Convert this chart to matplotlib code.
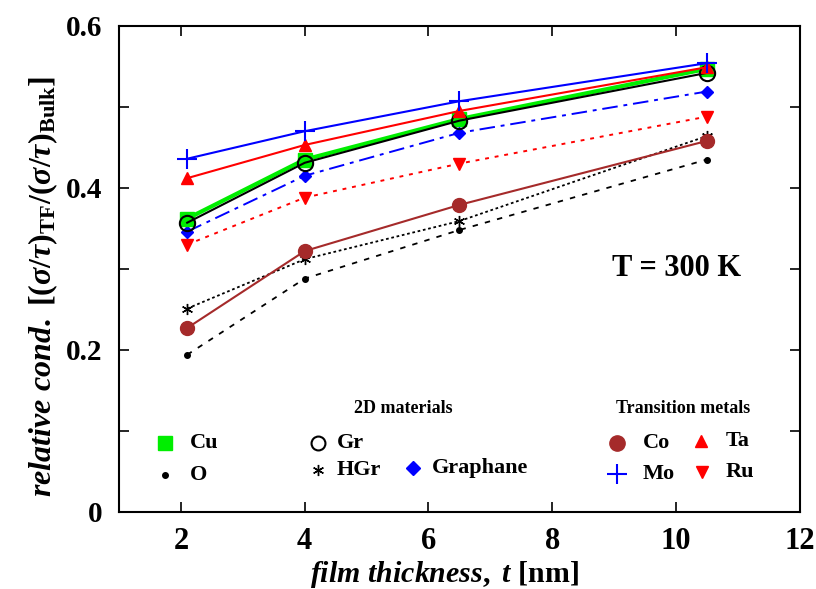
import matplotlib
matplotlib.use("Agg")
from matplotlib import pyplot as plt
from matplotlib.ticker import MultipleLocator

plt.rcParams['font.family'] = ['Liberation Serif', 'DejaVu Serif']
plt.rcParams['font.weight'] = 'bold'
plt.rcParams['mathtext.fontset'] = 'custom'
plt.rcParams['mathtext.rm'] = 'Liberation Serif:bold'
plt.rcParams['mathtext.bf'] = 'Liberation Serif:bold'
plt.rcParams['mathtext.it'] = 'Liberation Serif:italic'

thickness = [2.1, 4.0, 6.5, 10.5]

cu = [0.362, 0.435, 0.485, 0.547]
gr = [0.357, 0.431, 0.483, 0.542]
graphane = [0.346, 0.415, 0.468, 0.519]
hgr = [0.251, 0.312, 0.359, 0.464]
o = [0.194, 0.288, 0.348, 0.435]
co = [0.227, 0.322, 0.379, 0.458]
ta = [0.412, 0.453, 0.495, 0.549]
mo = [0.436, 0.470, 0.507, 0.554]
ru = [0.330, 0.388, 0.430, 0.488]

fig = plt.figure(figsize=(8.16, 5.89), dpi=100)
ax = fig.add_axes([0.146, 0.131, 0.834, 0.825])

ax.plot(thickness, o, color='black', ls=(0, (3, 4)), lw=1.3, marker='o', ms=4)
ax.plot(thickness, hgr, color='black', ls=(0, (1.5, 1.5)), lw=1.3, marker=(6, 2, 0), ms=8, mew=1)
ax.plot(thickness, co, color='#a52a2a', ls='-', lw=1.5, marker='o', ms=10)
ax.plot(thickness, ru, color='red', ls=(0, (2, 3)), lw=1.4, marker='v', ms=8)
ax.plot(thickness, graphane, color='blue', ls=(0, (8, 3, 2, 3)), lw=1.4, marker='D', ms=6)
ax.plot(thickness, cu, color='#00ee00', ls='-', lw=3, marker='s', ms=10)
ax.plot(thickness, gr, color='black', ls='-', lw=1.5, marker='o', ms=11, mfc='none', mew=1.5)
ax.plot(thickness, ta, color='red', ls='-', lw=1.5, marker='^', ms=9)
ax.plot(thickness, mo, color='blue', ls='-', lw=1.5, marker='+', ms=14, mew=1.5)

ax.set_xlim(1, 12)
ax.set_ylim(0, 0.6)
ax.xaxis.set_major_locator(MultipleLocator(2))
ax.yaxis.set_minor_locator(MultipleLocator(0.1))
ax.set_yticks([0, 0.2, 0.4, 0.6])
ax.set_yticklabels(['0', '0.2', '0.4', '0.6'])
ax.tick_params(which='both', direction='in', top=True, right=True, labelsize=21, pad=9)
ax.tick_params(axis='x', labelsize=22, pad=11)
ax.tick_params(axis='y', pad=12)
ax.tick_params(which='major', length=7, width=1.2)
ax.tick_params(which='minor', length=7, width=1.2)
for s in ax.spines.values():
    s.set_linewidth(1.5)

ax.set_xlabel(r'$\mathit{film\ thickness,\ t}$ [nm]', fontsize=21.5, fontweight='bold')
ax.xaxis.set_label_coords(0.478, -0.098)
ax.set_ylabel(r'$\mathit{relative\ cond.}\ [(\sigma/\tau)_{\mathrm{TF}}/(\sigma/\tau)_{\mathrm{Bulk}}]$',
              fontsize=23)
ax.yaxis.set_label_coords(-0.087, 0.463)

# pixel coords, origin bottom left
ax.text(612, 321, 'T = 300 K', transform=None, fontsize=22, weight='bold', va='center')

# hand made legend, positions in axes fraction
def entry(x, y, marker, color, label, lx, **kw):
    ax.plot([x], [y], transform=ax.transAxes, marker=marker, color=color, ls='none', clip_on=False, **kw)
    ax.text(lx, y, label, transform=ax.transAxes, fontsize=16, weight='bold', va='center')

def fx(px):
    return (px - 119) / 681.0

def fy(py):
    return (512 - py) / 486.0

ax.text(fx(403), fy(409), '2D materials', transform=ax.transAxes, fontsize=13, weight='bold', ha='center', va='center')
ax.text(fx(683), fy(409), 'Transition metals', transform=ax.transAxes, fontsize=13, weight='bold', ha='center', va='center')
entry(fx(165), fy(443), 's', '#00ee00', 'Cu', fx(190), ms=10)
entry(fx(165), fy(475), 'o', 'black', 'O', fx(190), ms=4)
entry(fx(318), fy(443), 'o', 'black', 'Gr', fx(337), ms=10, mfc='none', mew=1.5)
entry(fx(318), fy(470), (6, 2, 0), 'black', 'HGr', fx(337), ms=8, mew=1)
entry(fx(413), fy(468), 'D', 'blue', 'Graphane', fx(432), ms=7)
entry(fx(617), fy(443), 'o', '#a52a2a', 'Co', fx(643), ms=11)
entry(fx(701), fy(441), '^', 'red', 'Ta', fx(726), ms=9)
entry(fx(617), fy(474), '+', 'blue', 'Mo', fx(643), ms=14, mew=1.5)
entry(fx(702), fy(472), 'v', 'red', 'Ru', fx(726), ms=8)

fig.savefig('out.png', dpi=100)
